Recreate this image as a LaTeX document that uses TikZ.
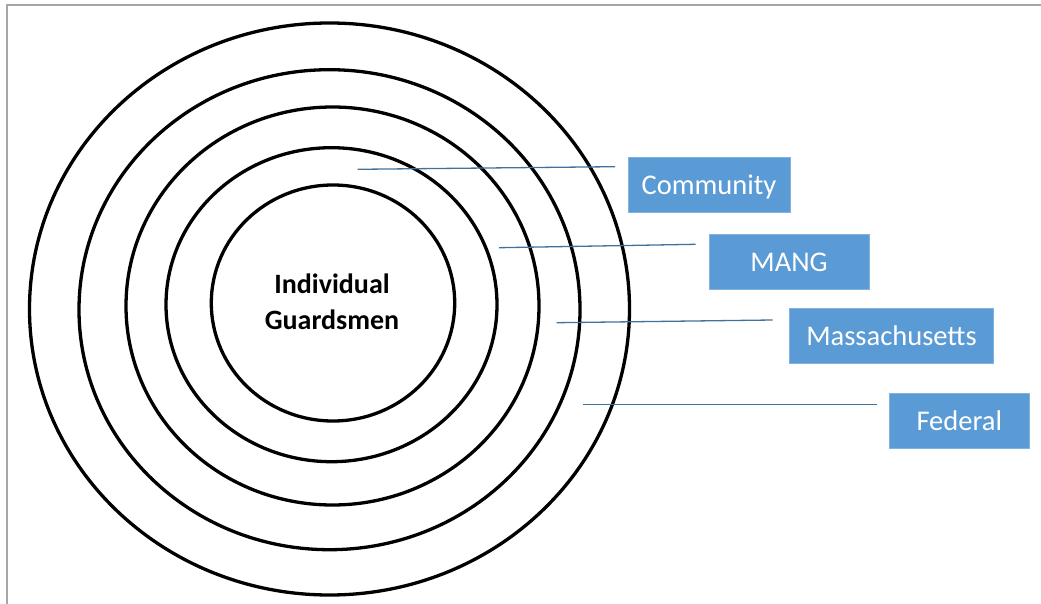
\documentclass[tikz,border=0pt]{standalone}
\usepackage{fontspec}
\setmainfont{Carlito}
\usepackage{tikz}
\usetikzlibrary{positioning}
\definecolor{boxblue}{RGB}{91,155,213}
\definecolor{boxedge}{RGB}{130,178,224}
\definecolor{leaderblue}{RGB}{65,113,156}
\definecolor{framegray}{RGB}{166,166,166}
\tikzset{
    ring/.style = {draw=black, line width=3.3pt},
    label-box/.style = {fill=boxblue, draw=boxedge, line width=0.8pt, rectangle, text=white, minimum height=55pt, inner sep=0pt, text height=19pt, text depth=0pt, font=\fontsize{28.5}{34}\selectfont},
    leader-line/.style = {draw=leaderblue, line width=1.3pt},
    centre-text/.style = {align=center, font=\bfseries\fontsize{28}{36}\selectfont},
}

\begin{document}
\begin{tikzpicture}[x=1pt, y=-1pt]
\useasboundingbox (0,0) rectangle (1041,604);
\draw[framegray, line width=2pt] (7,604) -- (7,5) -- (1041,5);

\foreach \cx/\cy/\rx/\ry in {329.5/309/300/286, 329.5/309.7/250.5/240, 332.5/306/206.5/199, 331.5/304.7/165.5/157, 333/303/121.7/118}
    \draw[ring] (\cx,\cy) ellipse [x radius=\rx pt, y radius=\ry pt];

\node[centre-text] (guard) at (332,302) {Individual\\Guardsmen};

\node[label-box, minimum width=162pt] (community) at (709,185) {Community};
\node[label-box, minimum width=160pt] (mang) at (789,261.5) {MANG};
\node[label-box, minimum width=204pt] (mass) at (891.5,336.3) {Massachusetts};
\node[label-box, minimum width=140pt] (federal) at (959.3,421.3) {Federal};

\coordinate (community-in) at (357.7,169.3);
\coordinate (community-out) at (615,166.7);
\coordinate (mang-in) at (499,247.7);
\coordinate (mang-out) at (695.7,244.3);
\coordinate (mass-in) at (556.7,322.7);
\coordinate (mass-out) at (772.7,320);
\coordinate (federal-in) at (583.3,404.7);
\coordinate (federal-out) at (877,404.7);

\draw[leader-line] (community-in) -- (community-out);
\draw[leader-line] (mang-in) -- (mang-out);
\draw[leader-line] (mass-in) -- (mass-out);
\draw[leader-line] (federal-in) -- (federal-out);
\end{tikzpicture}
\end{document}
